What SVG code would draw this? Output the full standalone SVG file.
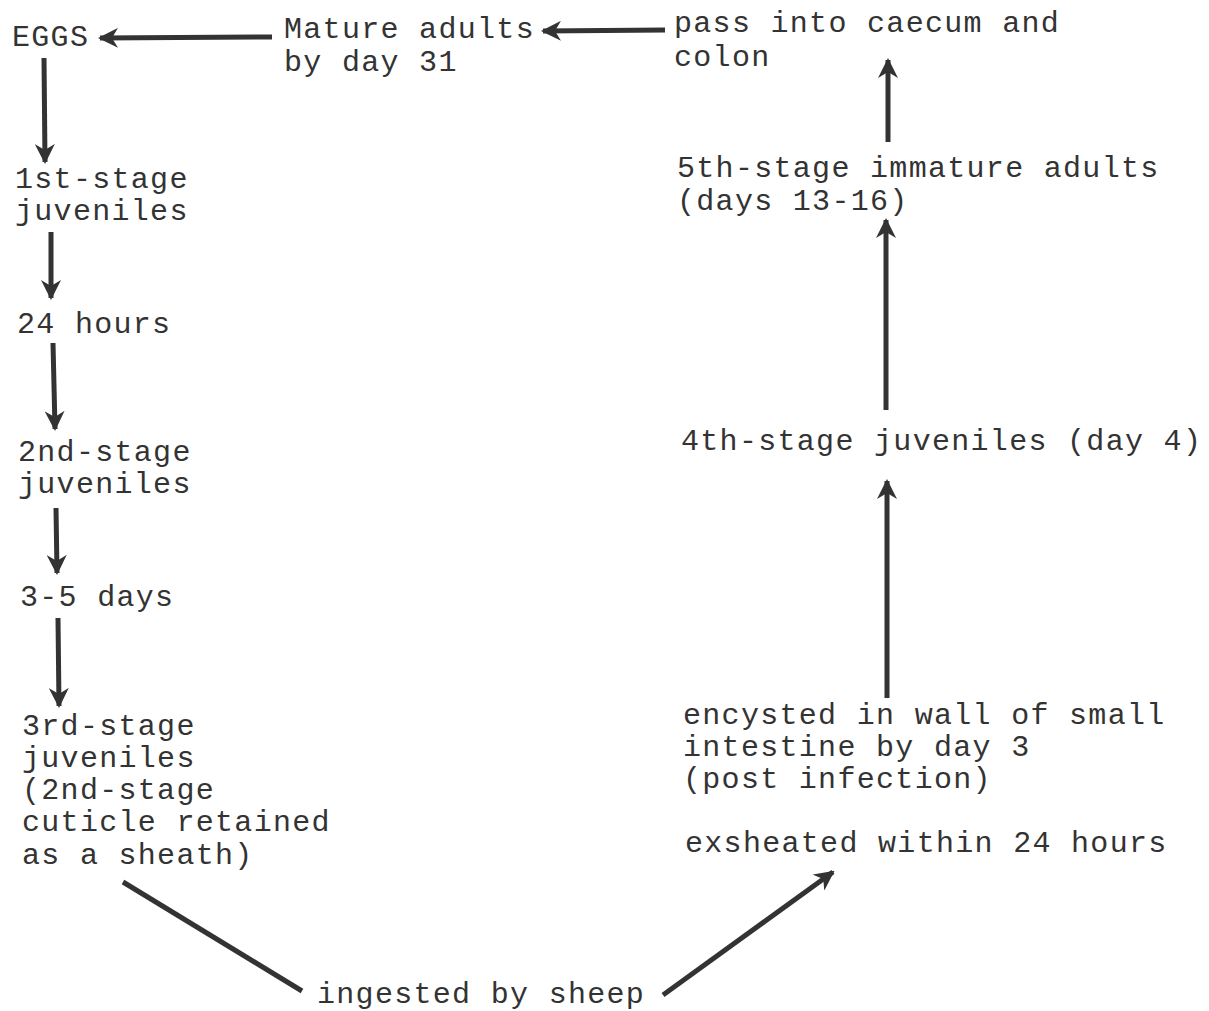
<svg xmlns="http://www.w3.org/2000/svg" width="1209" height="1011" viewBox="0 0 1209 1011">
<style>
text{font-family:"Liberation Mono","DejaVu Sans Mono",monospace;font-size:30px;fill:#333;letter-spacing:1.3px}
.c line{stroke:#333;stroke-width:5;fill:none}
</style>
<defs>
<marker id="ah" viewBox="0 0 10 10" refX="9" refY="5" markerWidth="4" markerHeight="4" orient="auto" markerUnits="strokeWidth">
<path d="M0,0 L10,5 L0,10 L3,5 Z" fill="#333"/>
</marker>
</defs>
<rect width="1209" height="1011" fill="#fff"/>
<g id="eggs"><text x="12" y="46">EGGS</text></g>
<g id="mature"><text x="284" y="38">Mature adults</text><text x="284" y="71">by day 31</text></g>
<g id="pass"><text x="674" y="32">pass into caecum and</text><text x="674" y="66">colon</text></g>
<g id="stage5"><text x="677" y="177">5th-stage immature adults</text><text x="677" y="210">(days 13-16)</text></g>
<g id="stage4"><text x="681" y="450">4th-stage juveniles (day 4)</text></g>
<g id="encysted"><text x="683" y="724">encysted in wall of small</text><text x="683" y="756">intestine by day 3</text><text x="683" y="788">(post infection)</text></g>
<g id="exsheated"><text x="685" y="852">exsheated within 24 hours</text></g>
<g id="ingested"><text x="317" y="1003">ingested by sheep</text></g>
<g id="stage1"><text x="15" y="188">1st-stage</text><text x="15" y="220">juveniles</text></g>
<g id="h24"><text x="17" y="333">24 hours</text></g>
<g id="stage2"><text x="18" y="461">2nd-stage</text><text x="18" y="493">juveniles</text></g>
<g id="d35"><text x="20" y="606">3-5 days</text></g>
<g id="stage3"><text x="22" y="735">3rd-stage</text><text x="22" y="767">juveniles</text><text x="22" y="799">(2nd-stage</text><text x="22" y="831">cuticle retained</text><text x="22" y="864">as a sheath)</text></g>
<g class="c" id="connectors">
<line x1="272" y1="37" x2="100" y2="38" marker-end="url(#ah)"/>
<line x1="665" y1="30" x2="543" y2="31" marker-end="url(#ah)"/>
<line x1="44" y1="58" x2="45" y2="162" marker-end="url(#ah)"/>
<line x1="51" y1="232" x2="51" y2="298" marker-end="url(#ah)"/>
<line x1="53" y1="343" x2="55" y2="429" marker-end="url(#ah)"/>
<line x1="56" y1="508" x2="57" y2="573" marker-end="url(#ah)"/>
<line x1="58" y1="618" x2="59" y2="706" marker-end="url(#ah)"/>
<line x1="888" y1="142" x2="888" y2="60" marker-end="url(#ah)"/>
<line x1="886" y1="410" x2="886" y2="220" marker-end="url(#ah)"/>
<line x1="887" y1="698" x2="887" y2="481" marker-end="url(#ah)"/>
<line x1="123" y1="882" x2="302" y2="991"/>
<line x1="663" y1="995" x2="833" y2="872" marker-end="url(#ah)"/>
</g>
</svg>
